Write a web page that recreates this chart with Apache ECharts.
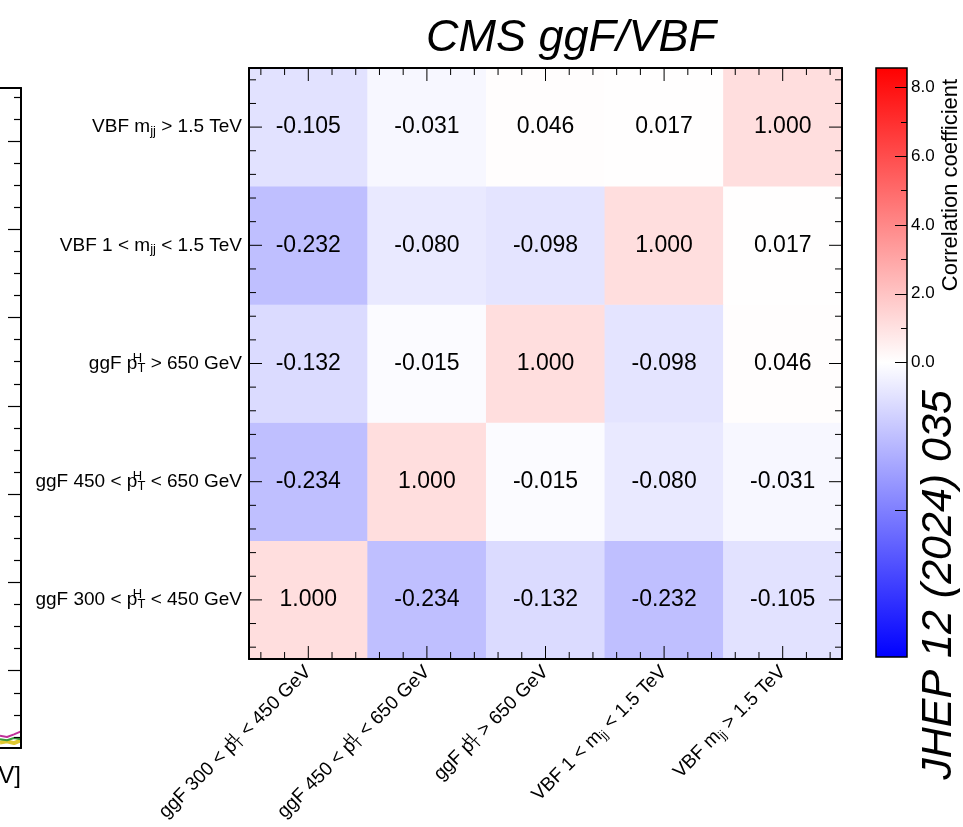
<!DOCTYPE html>
<html><head><meta charset="utf-8">
<script src="https://cdn.jsdelivr.net/npm/echarts@6/dist/echarts.min.js"></script>
<style>html,body{margin:0;padding:0;background:#fff}#c{width:963px;height:827px;background:#fff}</style>
</head><body><div id="c"></div>
<script>
// ---------- data ----------
const categories = [
  'ggF 300 < p{sup|H}{sub|T} < 450 GeV',
  'ggF 450 < p{sup|H}{sub|T} < 650 GeV',
  'ggF p{sup|H}{sub|T} > 650 GeV',
  'VBF 1 < m{sub|jj} < 1.5 TeV',
  'VBF m{sub|jj} > 1.5 TeV'
];
// rows listed bottom (index 0) to top (index 4), columns left to right
const rowGgF300 = [1.000, -0.234, -0.132, -0.232, -0.105];
const rowGgF450 = [-0.234, 1.000, -0.015, -0.080, -0.031];
const rowGgF650 = [-0.132, -0.015, 1.000, -0.098, 0.046];
const rowVBF1   = [-0.232, -0.080, -0.098, 1.000, 0.017];
const rowVBF15  = [-0.105, -0.031, 0.046, 0.017, 1.000];
const rows = [rowGgF300, rowGgF450, rowGgF650, rowVBF1, rowVBF15];

const colorbarMajorTicks = [-4.3, 0, 2, 4, 6, 8];
const colorbarMinorTicks = [1, 3, 5, 7];
const colorbarLabels = [0, 2, 4, 6, 8];

// left (cut-off) neighbouring panel, a few curves near its bottom
const leftX = [0, 1, 2, 3];
const leftYellow  = [0.25, 0.30, 0.22, 0.35];
const leftGreen   = [0.40, 0.35, 0.45, 0.40];
const leftMagenta = [0.55, 0.50, 0.62, 0.75];
const leftMajorTicks = [3.5, 7.5, 11.5, 15.5, 19.5, 23.5, 27.5];
const leftMinorTicks = [0.5,1.5,2.5,4.5,5.5,6.5,8.5,9.5,10.5,12.5,13.5,14.5,16.5,17.5,18.5,20.5,21.5,22.5,24.5,25.5,26.5,28.5,29.5];

// ---------- styling helpers ----------
const FONT = '"Liberation Sans", Arial, Helvetica, sans-serif';
function cellColor(v) {
  if (v < 0) {
    const t = Math.min(1, -v / 0.93);
    const c = Math.round(255 * (1 - t));
    return 'rgb(' + c + ',' + c + ',255)';
  }
  const t = Math.min(1, v / 7.7);
  const c = Math.round(255 * (1 - t));
  return 'rgb(255,' + c + ',' + c + ')';
}
const heatData = [];
rows.forEach((r, y) => r.forEach((v, x) => heatData.push({ value: [x, y, v], itemStyle: { color: cellColor(v) } })));

const rich = {
  sup: { fontSize: 13, fontFamily: FONT, color: '#000', width: 0, align: 'left', padding: [0, 0, 10, 0] },
  sub: { fontSize: 13, fontFamily: FONT, color: '#000', padding: [9, 0, 0, 0] }
};

// tick marks of the matrix frame (ROOT style: major at cell centres, minor every 1/5 cell), all four sides
const tickData = [];
for (let side = 0; side < 4; side++) {
  for (let i = 0; i < 5; i++) for (let k = 0; k < 5; k++) {
    tickData.push([side, i + 0.1 + 0.2 * k, k === 2 ? 13 : 7]);
  }
}

const line2 = () => ({ show: true, onZero: false, lineStyle: { color: '#000', width: 2 } });
const noLine = () => ({ show: false, onZero: false });
const R = { left: 249, top: 68, width: 593, height: 591 };

function catAxis(g, pos, labels) {
  return {
    type: 'category', gridIndex: g, position: pos, data: categories, z: 10,
    axisLine: line2(),
    axisTick: { show: false },
    axisLabel: labels ? Object.assign({ show: true, interval: 0, fontFamily: FONT, fontSize: 19, color: '#000', rich: rich }, labels) : { show: false },
    splitLine: { show: false }
  };
}
function valAxis(g, pos) {
  return {
    type: 'value', gridIndex: g, position: pos, min: 0, max: 5,
    axisLine: noLine(), axisTick: { show: false }, axisLabel: { show: false }, splitLine: { show: false }
  };
}
function hiddenAxis(g) { return { type: 'value', gridIndex: g, show: false, min: 0, max: 1, axisLine: noLine() }; }

const CB = { left: 876, top: 68, width: 31, height: 589 };
const LP = { left: -60, top: 88, width: 81, height: 660 };
const grids = [
  Object.assign({}, R), Object.assign({}, R), Object.assign({}, R),
  Object.assign({ show: true, borderColor: '#000', borderWidth: 1.5,
    backgroundColor: { type: 'linear', x: 0, y: 0, x2: 0, y2: 1,
      colorStops: [{ offset: 0, color: '#ff0000' }, { offset: 0.5, color: '#ffffff' }, { offset: 1, color: '#0000ff' }] } }, CB),
  Object.assign({}, CB),
  Object.assign({}, LP), Object.assign({}, LP)
];

const cbAxis = (g, ticks, len, labels) => ({
  type: 'value', gridIndex: g, position: 'right', min: -8.57, max: 8.57, z: 10,
  axisLine: noLine(),
  axisTick: { show: true, inside: true, length: len, customValues: ticks, lineStyle: { color: '#000', width: 1 } },
  axisLabel: labels ? { show: true, customValues: labels, formatter: v => v.toFixed(1), fontFamily: FONT, fontSize: 17, color: '#000', margin: 4 } : { show: false },
  splitLine: { show: false }
});
const lpAxis = (g, ticks, len, showLine) => ({
  type: 'value', gridIndex: g, position: 'right', min: 0, max: 29.9, z: 10,
  axisLine: showLine ? line2() : noLine(),
  axisTick: { show: true, inside: true, length: len, customValues: ticks, lineStyle: { color: '#000', width: 1.2 } },
  axisLabel: { show: false }, splitLine: { show: false }
});
const lpX = (g, pos, showLine) => ({
  type: 'value', gridIndex: g, position: pos, min: 0, max: 3, z: 10,
  axisLine: showLine ? line2() : noLine(), axisTick: { show: false }, axisLabel: { show: false }, splitLine: { show: false }
});

const xAxes = [
  catAxis(0, 'bottom', { rotate: 45, margin: 10 }),
  catAxis(1, 'top', null),
  valAxis(2, 'bottom'),
  hiddenAxis(3),
  hiddenAxis(4),
  lpX(5, 'bottom', true),
  lpX(6, 'top', true)
];
const yAxes = [
  catAxis(0, 'left', { margin: 7 }),
  catAxis(1, 'right', null),
  valAxis(2, 'left'),
  cbAxis(3, colorbarMajorTicks, 12, colorbarLabels),
  cbAxis(4, colorbarMinorTicks, 6, null),
  lpAxis(5, leftMajorTicks, 13, true),
  lpAxis(6, leftMinorTicks, 7, false)
];

function leftLine(data, color, width) {
  return { type: 'line', xAxisIndex: 5, yAxisIndex: 5, data: leftX.map((x, i) => [x, data[i]]), showSymbol: false, silent: true,
           lineStyle: { color: color, width: width }, z: 1 };
}

const textGraphics = [
  { type: 'text', x: 571, y: 38, style: { text: 'CMS ggF/VBF', font: 'italic 45px ' + FONT, fill: '#000', align: 'center', verticalAlign: 'middle' } },
  { type: 'text', x: 939, y: 585, rotation: Math.PI / 2, style: { text: 'JHEP 12 (2024) 035', font: 'italic 43px ' + FONT, fill: '#000', align: 'center', verticalAlign: 'middle' } },
  { type: 'text', x: 951, y: 185, rotation: Math.PI / 2, style: { text: 'Correlation coefficient', font: '22px ' + FONT, fill: '#000', align: 'center', verticalAlign: 'middle' } },
  { type: 'text', x: 21, y: 776, style: { text: 'm [GeV]', font: '24px ' + FONT, fill: '#000', align: 'right', verticalAlign: 'middle' } }
];

const option = {
  animation: false,
  backgroundColor: '#fff',
  grid: grids,
  xAxis: xAxes,
  yAxis: yAxes,
  series: [
    {
      type: 'heatmap', xAxisIndex: 0, yAxisIndex: 0, data: heatData, z: 1,
      label: { show: true, formatter: p => p.value[2].toFixed(3), fontFamily: FONT, fontSize: 23, color: '#000' },
      emphasis: { disabled: true }, silent: true
    },
    leftLine(leftYellow, '#e0c830', 4),
    leftLine(leftGreen, '#3a9a3a', 2),
    leftLine(leftMagenta, '#c0309a', 2)
  ],
  graphic: textGraphics
};
const chart = echarts.init(document.getElementById('c'));
chart.setOption(option);

// frame ticks placed through the helper grid's value scale (0..5 across the matrix)
const tickLines = tickData.map(([side, pos, len]) => {
  let a, b;
  if (side === 0) { a = chart.convertToPixel({ gridIndex: 2 }, [pos, 0]); b = [a[0], a[1] - len]; }
  else if (side === 1) { a = chart.convertToPixel({ gridIndex: 2 }, [pos, 5]); b = [a[0], a[1] + len]; }
  else if (side === 2) { a = chart.convertToPixel({ gridIndex: 2 }, [0, pos]); b = [a[0] + len, a[1]]; }
  else { a = chart.convertToPixel({ gridIndex: 2 }, [5, pos]); b = [a[0] - len, a[1]]; }
  return { type: 'line', silent: true, z: 100, zlevel: 2,
           shape: { x1: a[0], y1: a[1], x2: b[0], y2: b[1] },
           style: { stroke: '#000', lineWidth: 1 } };
});
chart.setOption({ graphic: textGraphics.concat(tickLines) });
</script>
</body></html>
